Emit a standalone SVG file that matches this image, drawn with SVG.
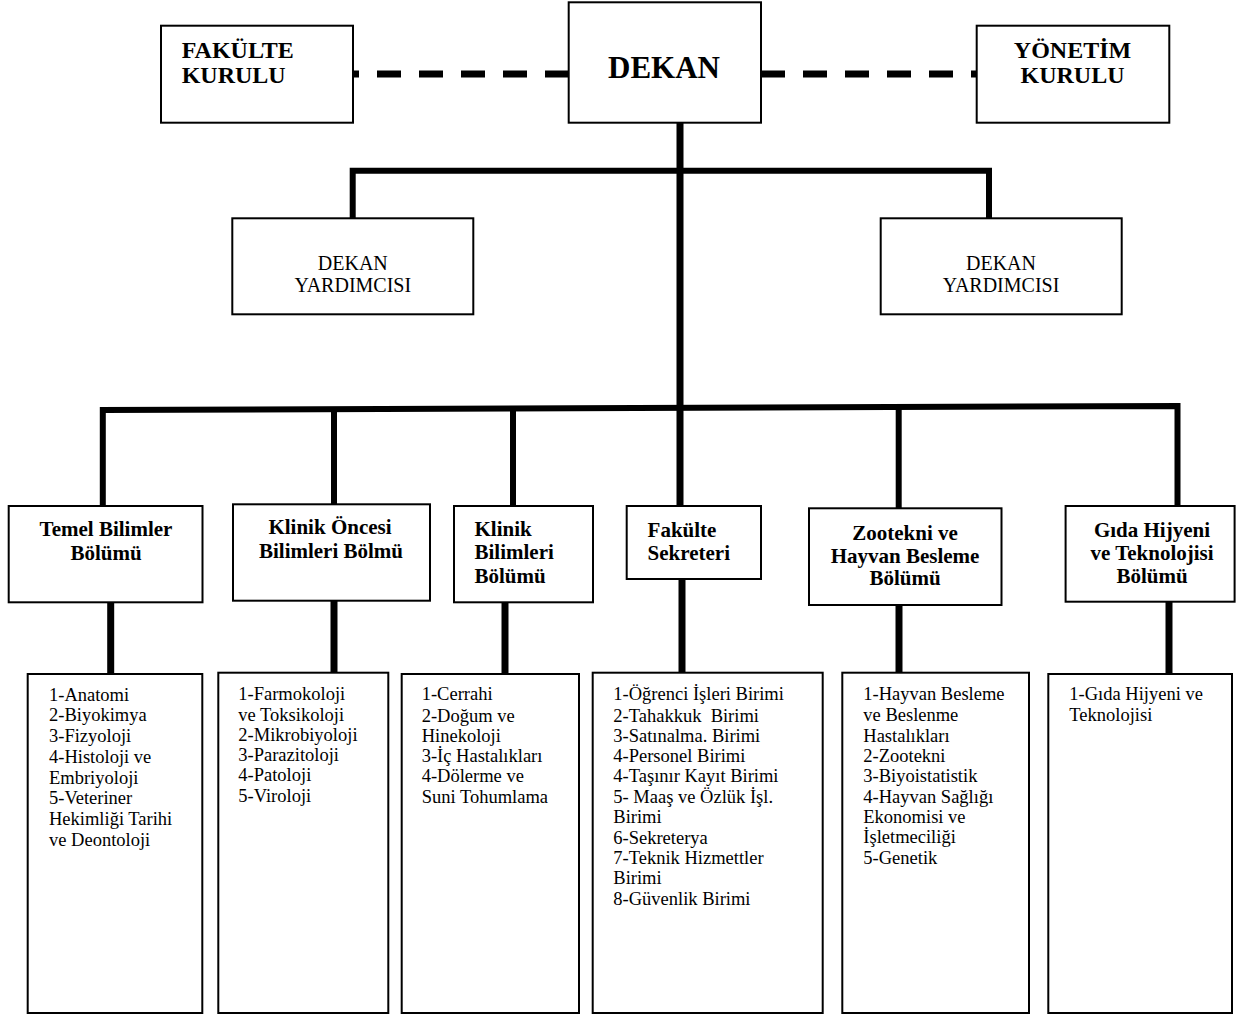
<svg xmlns="http://www.w3.org/2000/svg" width="1236" height="1016" viewBox="0 0 1236 1016">
<style>
.box{fill:#fff;stroke:#000;stroke-width:2}
.t{font-family:"Liberation Serif","Times New Roman",serif;fill:#000}
.b{font-weight:bold}
.h1{font-size:24px}
.dk{font-size:31px}
.dy{font-size:20px}
.dp{font-size:21px}
.ls{font-size:18.5px}
.c{text-anchor:middle}
.ln{stroke:#000;stroke-width:6;fill:none;stroke-linejoin:miter}
.dash{stroke:#000;stroke-width:7;stroke-dasharray:24 18;fill:none}
</style>
<rect x="0" y="0" width="1236" height="1016" fill="#fff"/>
<g id="connectors">
<line class="dash" x1="353" y1="74" x2="569" y2="74" stroke-dashoffset="18"/>
<line class="dash" x1="761" y1="74" x2="977" y2="74"/>
<line class="ln" x1="680" y1="122" x2="680" y2="506" style="stroke-width:7"/>
<path class="ln" d="M352.7 218 V170.7 H989 V218"/>
<path class="ln" d="M102.8 506 V410 L1177.5 406 V506"/>
<line class="ln" x1="334" y1="409" x2="334" y2="504"/>
<line class="ln" x1="513" y1="409" x2="513" y2="506"/>
<line class="ln" x1="898.7" y1="407" x2="898.7" y2="508"/>
<line class="ln" x1="110.7" y1="602" x2="110.7" y2="674" style="stroke-width:7"/>
<line class="ln" x1="334" y1="600" x2="334" y2="673" style="stroke-width:7"/>
<line class="ln" x1="505" y1="602" x2="505" y2="674" style="stroke-width:7"/>
<line class="ln" x1="682" y1="579" x2="682" y2="673" style="stroke-width:7"/>
<line class="ln" x1="899" y1="605" x2="899" y2="673" style="stroke-width:7"/>
<line class="ln" x1="1169" y1="602" x2="1169" y2="674" style="stroke-width:7"/>
</g>
<g id="fakulte-kurulu">
<rect class="box" x="161" y="25.7" width="192" height="97"/>
<text class="t b h1" x="181.7" y="58.3">FAKÜLTE</text>
<text class="t b h1" x="181.7" y="83.3">KURULU</text>
</g>
<g id="dekan">
<rect class="box" x="568.7" y="2.3" width="192.3" height="120.4"/>
<text class="t b dk c" x="664" y="78">DEKAN</text>
</g>
<g id="yonetim-kurulu">
<rect class="box" x="976.7" y="25.7" width="192.6" height="97"/>
<text class="t b h1 c" x="1072.5" y="58.3">YÖNETİM</text>
<text class="t b h1 c" x="1072.5" y="83.3">KURULU</text>
</g>
<g id="dekan-yardimcisi-1">
<rect class="box" x="232.3" y="218.3" width="241" height="96"/>
<text class="t dy c" x="352.8" y="270">DEKAN</text>
<text class="t dy c" x="352.8" y="291.7">YARDIMCISI</text>
</g>
<g id="dekan-yardimcisi-2">
<rect class="box" x="880.7" y="218.3" width="241" height="96"/>
<text class="t dy c" x="1001" y="270">DEKAN</text>
<text class="t dy c" x="1001" y="291.7">YARDIMCISI</text>
</g>
<g id="temel-bilimler">
<rect class="box" x="8.7" y="506" width="193.8" height="96.3"/>
<text class="t b dp c" x="106" y="536">Temel Bilimler</text>
<text class="t b dp c" x="106" y="560">Bölümü</text>
</g>
<g id="klinik-oncesi">
<rect class="box" x="233" y="504.3" width="197" height="96.4"/>
<text class="t b dp c" x="330" y="534">Klinik Öncesi</text>
<text class="t b dp c" x="331" y="557.7">Bilimleri Bölmü</text>
</g>
<g id="klinik-bilimleri">
<rect class="box" x="454" y="506" width="139" height="96.3"/>
<text class="t b dp" x="474.5" y="536">Klinik</text>
<text class="t b dp" x="474.5" y="559.3">Bilimleri</text>
<text class="t b dp" x="474.5" y="582.7">Bölümü</text>
</g>
<g id="fakulte-sekreteri">
<rect class="box" x="626.7" y="506" width="134.3" height="73"/>
<text class="t b dp" x="647.6" y="536.7">Fakülte</text>
<text class="t b dp" x="647.6" y="560">Sekreteri</text>
</g>
<g id="zootekni">
<rect class="box" x="809" y="508.3" width="192.5" height="96.7"/>
<text class="t b dp c" x="905" y="540">Zootekni ve</text>
<text class="t b dp c" x="905" y="563.3">Hayvan Besleme</text>
<text class="t b dp c" x="905" y="585">Bölümü</text>
</g>
<g id="gida-hijyeni">
<rect class="box" x="1065.6" y="506" width="169" height="95.7"/>
<text class="t b dp c" x="1152" y="536.7">Gıda Hijyeni</text>
<text class="t b dp c" x="1152" y="560">ve Teknolojisi</text>
<text class="t b dp c" x="1152" y="583.3">Bölümü</text>
</g>
<g id="list-temel">
<rect class="box" x="27.7" y="674" width="174.6" height="339"/>
<text class="t ls" x="49" y="700.7">1-Anatomi</text>
<text class="t ls" x="49" y="721.4">2-Biyokimya</text>
<text class="t ls" x="49" y="742.1">3-Fizyoloji</text>
<text class="t ls" x="49" y="762.8">4-Histoloji ve</text>
<text class="t ls" x="49" y="783.5">Embriyoloji</text>
<text class="t ls" x="49" y="804.2">5-Veteriner</text>
<text class="t ls" x="49" y="824.9">Hekimliği Tarihi</text>
<text class="t ls" x="49" y="845.6">ve Deontoloji</text>
</g>
<g id="list-klinik-oncesi">
<rect class="box" x="218.3" y="672.7" width="170" height="340.3"/>
<text class="t ls" x="238.3" y="700">1-Farmokoloji</text>
<text class="t ls" x="238.3" y="720.7">ve Toksikoloji</text>
<text class="t ls" x="238.3" y="741">2-Mikrobiyoloji</text>
<text class="t ls" x="238.3" y="761">3-Parazitoloji</text>
<text class="t ls" x="238.3" y="781">4-Patoloji</text>
<text class="t ls" x="238.3" y="801.7">5-Viroloji</text>
</g>
<g id="list-klinik">
<rect class="box" x="401.7" y="674" width="177.3" height="339"/>
<text class="t ls" x="421.7" y="700">1-Cerrahi</text>
<text class="t ls" x="421.7" y="721.7">2-Doğum ve</text>
<text class="t ls" x="421.7" y="741.7">Hinekoloji</text>
<text class="t ls" x="421.7" y="761.7">3-İç Hastalıkları</text>
<text class="t ls" x="421.7" y="781.7">4-Dölerme ve</text>
<text class="t ls" x="421.7" y="802.7">Suni Tohumlama</text>
</g>
<g id="list-sekreter">
<rect class="box" x="592.7" y="672.7" width="230" height="340.3"/>
<text class="t ls" x="613.3" y="700">1-Öğrenci İşleri Birimi</text>
<text class="t ls" x="613.3" y="721.7" xml:space="preserve">2-Tahakkuk  Birimi</text>
<text class="t ls" x="613.3" y="741.7">3-Satınalma. Birimi</text>
<text class="t ls" x="613.3" y="761.7">4-Personel Birimi</text>
<text class="t ls" x="613.3" y="781.7">4-Taşınır Kayıt Birimi</text>
<text class="t ls" x="613.3" y="802.7">5- Maaş ve Özlük İşl.</text>
<text class="t ls" x="613.3" y="823.3">Birimi</text>
<text class="t ls" x="613.3" y="844">6-Sekreterya</text>
<text class="t ls" x="613.3" y="864">7-Teknik Hizmettler</text>
<text class="t ls" x="613.3" y="884">Birimi</text>
<text class="t ls" x="613.3" y="905">8-Güvenlik Birimi</text>
</g>
<g id="list-zootekni">
<rect class="box" x="842.3" y="672.7" width="186.7" height="340.3"/>
<text class="t ls" x="863.3" y="700">1-Hayvan Besleme</text>
<text class="t ls" x="863.3" y="720.7">ve Beslenme</text>
<text class="t ls" x="863.3" y="741.7">Hastalıkları</text>
<text class="t ls" x="863.3" y="761.7">2-Zootekni</text>
<text class="t ls" x="863.3" y="781.7">3-Biyoistatistik</text>
<text class="t ls" x="863.3" y="802.7">4-Hayvan Sağlığı</text>
<text class="t ls" x="863.3" y="822.7">Ekonomisi ve</text>
<text class="t ls" x="863.3" y="843.3">İşletmeciliği</text>
<text class="t ls" x="863.3" y="864">5-Genetik</text>
</g>
<g id="list-gida">
<rect class="box" x="1048.3" y="674" width="183.7" height="339"/>
<text class="t ls" x="1069.3" y="700">1-Gıda Hijyeni ve</text>
<text class="t ls" x="1069.3" y="720.7">Teknolojisi</text>
</g>
</svg>
